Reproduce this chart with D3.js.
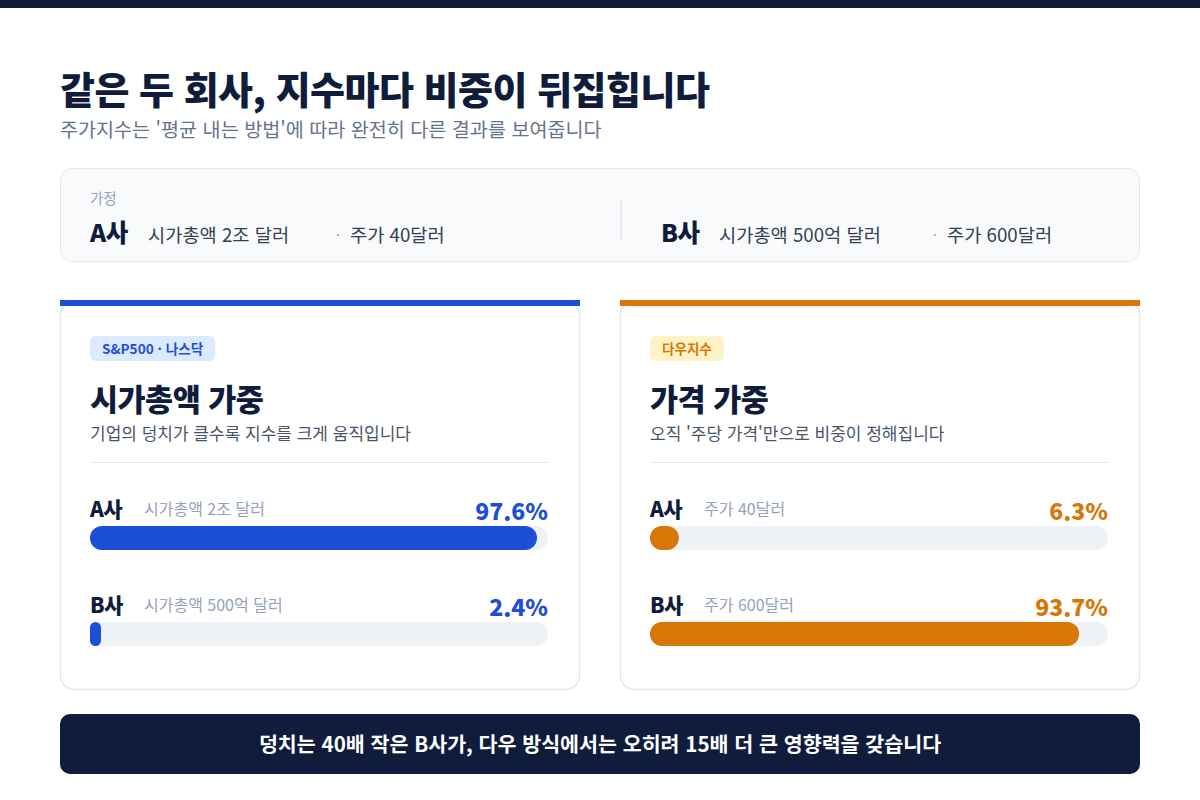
<!DOCTYPE html>
<html lang="ko">
<head>
<meta charset="utf-8">
<script src="https://cdn.jsdelivr.net/npm/d3@7"></script>
<style>
  body { margin: 0; background: #fff; }
  svg { display: block; font-family: 'Noto Sans CJK KR', 'Noto Sans', sans-serif; }
</style>
</head>
<body>
<div id="chart"></div>
<script>
// data
const companies = ['A사', 'B사']
const capLabels = ['시가총액 2조 달러', '시가총액 500억 달러']
const priceLabels = ['주가 40달러', '주가 600달러']
const capWeights = [97.6, 2.4]
const priceWeights = [6.3, 93.7]

const cards = [
  {
    badge: 'S&P500 · 나스닥',
    title: '시가총액 가중',
    desc: '기업의 덩치가 클수록 지수를 크게 움직입니다',
    subs: capLabels,
    values: capWeights,
    color: '#1d4ed8',
    badgeFill: '#dbeafe'
  },
  {
    badge: '다우지수',
    title: '가격 가중',
    desc: "오직 '주당 가격'만으로 비중이 정해집니다",
    subs: priceLabels,
    values: priceWeights,
    color: '#d97706',
    badgeFill: '#fef3c7'
  }
]

const W = 1200
const H = 800
const navy = '#0f1c3b'

const svg = d3.select('#chart').append('svg')
  .attr('width', W)
  .attr('height', H)

// top strip
svg.append('rect').attr('x', 0).attr('y', 0).attr('width', W).attr('height', 8).attr('fill', navy)

// heading
svg.append('text')
  .attr('x', 60).attr('y', 104)
  .attr('font-size', 38).attr('font-weight', 800)
  .attr('letter-spacing', -0.5)
  .attr('fill', navy)
  .text('같은 두 회사, 지수마다 비중이 뒤집힙니다')

svg.append('text')
  .attr('x', 60).attr('y', 137)
  .attr('font-size', 19.6)
  .attr('fill', '#64748b')
  .text("주가지수는 '평균 내는 방법'에 따라 완전히 다른 결과를 보여줍니다")

// assumption box
const box = svg.append('g')
box.append('rect')
  .attr('x', 60.5).attr('y', 168.5).attr('width', 1079).attr('height', 93)
  .attr('rx', 12)
  .attr('fill', '#f8fafc').attr('stroke', '#e2e8f0')

box.append('text')
  .attr('x', 90).attr('y', 204)
  .attr('font-size', 14.5).attr('fill', '#94a3b8')
  .text('가정')

box.append('line')
  .attr('x1', 621).attr('x2', 621).attr('y1', 200).attr('y2', 240)
  .attr('stroke', '#e2e8f0').attr('stroke-width', 1.5)

const boxX = [90, 661]
const dotX = [246, 272]
companies.forEach((c, i) => {
  const g = box.append('g').attr('transform', `translate(${boxX[i]},242)`)
  g.append('text')
    .attr('font-size', 24.5).attr('font-weight', 800).attr('fill', navy)
    .attr('letter-spacing', -0.5)
    .text(c)
  g.append('text')
    .attr('x', 58).attr('font-size', 18.7).attr('fill', '#334155')
    .text(capLabels[i])
  g.append('text')
    .attr('x', dotX[i]).attr('y', -2).attr('font-size', 14).attr('fill', '#94a3b8')
    .text('·')
  g.append('text')
    .attr('x', dotX[i] + 14).attr('font-size', 18.7).attr('fill', '#334155')
    .text(priceLabels[i])
})

// cards
const cardW = 520
const cardX = [60, 620]
const cardY = 300
const cardH = 390
const trackW = 458
const trackH = 24
const x = d3.scaleLinear().domain([0, 100]).range([0, trackW])

cards.forEach((d, ci) => {
  const g = svg.append('g').attr('transform', `translate(${cardX[ci]},${cardY})`)

  g.append('rect')
    .attr('x', 0.5).attr('y', 0.5).attr('width', cardW - 1).attr('height', cardH - 1)
    .attr('rx', 14)
    .attr('fill', '#fff').attr('stroke', '#e2e8f0').attr('stroke-width', 1.5)

  g.append('rect')
    .attr('x', 0).attr('y', 0).attr('width', cardW).attr('height', 6)
    .attr('fill', d.color)

  // badge
  const badge = g.append('g').attr('transform', 'translate(30,36)')
  const badgeText = badge.append('text')
    .attr('x', 12).attr('y', 18)
    .attr('font-size', 13.6).attr('font-weight', 700).attr('fill', d.color)
    .text(d.badge)
  const bw = badgeText.node().getComputedTextLength() + 24
  badge.insert('rect', 'text')
    .attr('width', bw).attr('height', 25).attr('rx', 6)
    .attr('fill', d.badgeFill)

  g.append('text')
    .attr('x', 30).attr('y', 111)
    .attr('font-size', 30.5).attr('font-weight', 800).attr('fill', navy)
    .attr('letter-spacing', -0.5)
    .text(d.title)

  g.append('text')
    .attr('x', 30).attr('y', 140)
    .attr('font-size', 17).attr('fill', '#475569')
    .text(d.desc)

  g.append('line')
    .attr('x1', 30).attr('x2', 30 + trackW).attr('y1', 162.5).attr('y2', 162.5)
    .attr('stroke', '#e2e8f0')

  const rows = g.selectAll('g.row')
    .data(companies.map((c, i) => ({ name: c, sub: d.subs[i], value: d.values[i] })))
    .join('g')
    .attr('class', 'row')
    .attr('transform', (r, i) => `translate(30,${217 + i * 96})`)

  rows.append('text')
    .attr('font-size', 21).attr('font-weight', 800).attr('fill', navy)
    .attr('letter-spacing', -0.5)
    .text(r => r.name)

  rows.append('text')
    .attr('x', 54).attr('y', -2)
    .attr('font-size', 16).attr('fill', '#94a3b8')
    .text(r => r.sub)

  rows.append('text')
    .attr('x', trackW).attr('y', 3)
    .attr('text-anchor', 'end')
    .attr('font-size', 23).attr('font-weight', 800).attr('fill', d.color)
    .text(r => r.value + '%')

  rows.append('rect')
    .attr('y', 9).attr('width', trackW).attr('height', trackH)
    .attr('rx', trackH / 2)
    .attr('fill', '#eef2f7')

  rows.append('rect')
    .attr('y', 9)
    .attr('width', r => x(r.value))
    .attr('height', trackH)
    .attr('rx', r => Math.min(trackH / 2, x(r.value) / 2))
    .attr('fill', d.color)
})

// bottom banner
svg.append('rect')
  .attr('x', 60).attr('y', 714).attr('width', 1080).attr('height', 60)
  .attr('rx', 10)
  .attr('fill', navy)

svg.append('text')
  .attr('x', 600).attr('y', 752)
  .attr('text-anchor', 'middle')
  .attr('font-size', 20.6).attr('font-weight', 700).attr('fill', '#fff')
  .text('덩치는 40배 작은 B사가, 다우 방식에서는 오히려 15배 더 큰 영향력을 갖습니다')
</script>
</body>
</html>
